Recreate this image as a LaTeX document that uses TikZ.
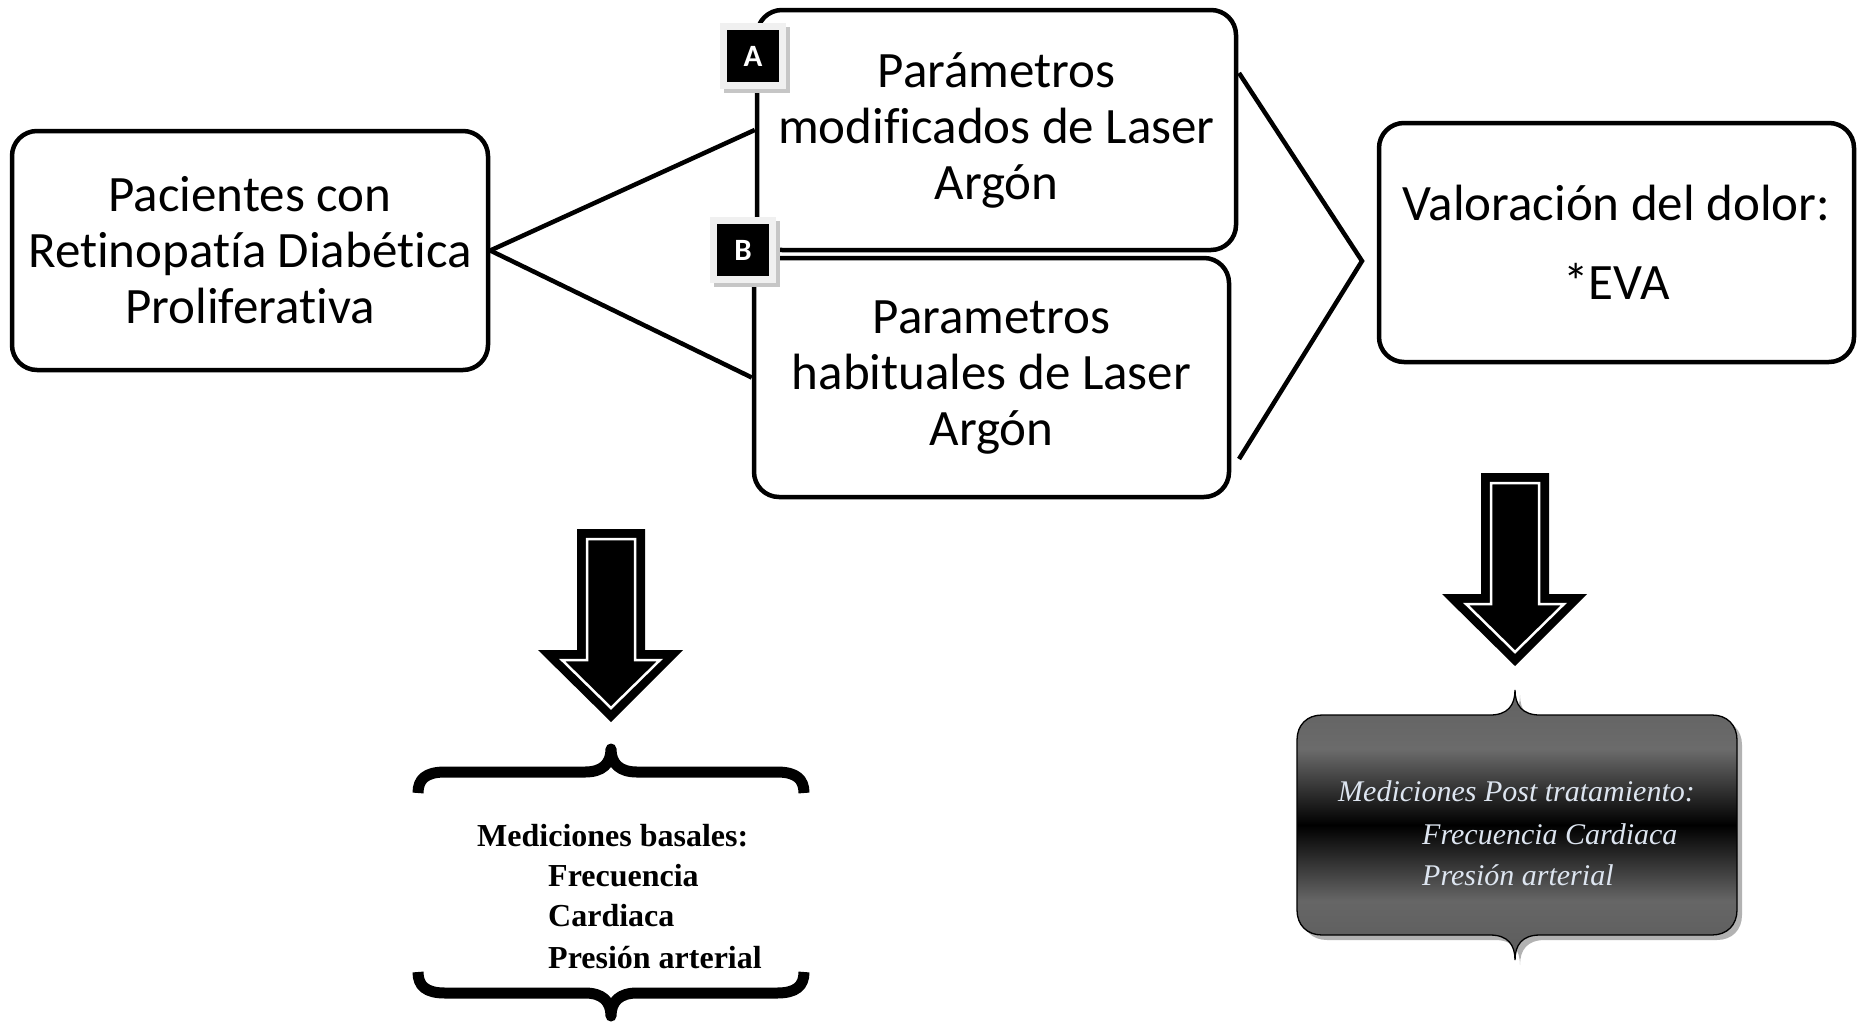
\documentclass[tikz,border=0pt]{standalone}
\usepackage{fontspec}
\setmainfont{Carlito}[Ligatures={NoCommon,NoContextual},Contextuals=NoAlternate]
\newfontfamily\camb{Liberation Serif}
\usetikzlibrary{calc}
\definecolor{posttxt}{RGB}{221,229,240}
\pgfdeclareverticalshading{postshade}{100bp}{color(0bp)=(black!64); color(25bp)=(black!64); color(36bp)=(black!60); color(50bp)=(black); color(64bp)=(black!58); color(75bp)=(black!62); color(100bp)=(black!62)}
\tikzset{
  bigarrow/.pic={
    \fill[black] (-34,0) -- (34,0) -- (34,121) -- (72,121) -- (0,193) -- (-73,121) -- (-34,121) -- cycle;
    \draw[white, line width=2.5pt, line join=miter] (-24,10) -- (24,10) -- (24,131) -- (49,131) -- (0,179) -- (-49,131) -- (-24,131) -- cycle;
  }
}
\begin{document}
\begin{tikzpicture}[x=1pt,y=-1pt,
  box/.style={draw=black, line width=4.5pt, rounded corners=25pt, fill=white, align=center, inner sep=0pt,
    font=\fontsize{51}{56}\selectfont},
  conn/.style={line width=4.5pt},
  lab/.style={fill=black, draw=gray!12, line width=7pt, minimum size=59pt, inner sep=0pt, text=white,
    font=\bfseries\fontsize{31}{31}\selectfont},
  labsh/.style={fill=gray!45, minimum size=66pt, inner sep=0pt},
  brace/.style={line width=11pt, line join=round},
  basal/.style={anchor=base west, inner sep=0pt, font=\camb\bfseries\fontsize{32}{36}\selectfont},
  post/.style={anchor=base west, inner sep=0pt, text=posttxt, font=\camb\itshape\fontsize{30}{34}\selectfont}
]
\useasboundingbox (0,0) rectangle (1857,1023);

% main boxes
\node[box, minimum width=476pt, minimum height=239pt] (pac) at (250,250.5) {Pacientes con\\Ret\kern0pt inopatía Diabét\kern0pt ica\\Proliferat\kern0pt iva};

\coordinate (rtop) at (1239,73);
\coordinate (apex) at (1362,261);
\coordinate (rbot) at (1239,459);

\node[box, minimum width=479pt, minimum height=240pt] (boxA) at (996.5,130) {Parámetros\\modif\kern0pt icados de Laser\\Argón};
\node[box, minimum width=475pt, minimum height=239pt] (boxB) at (991.5,377.5) {Parametros\\habituales de Laser\\Argón};
\node[box, minimum width=475pt, minimum height=239pt] (eva) at (1616.5,242.5) {Valoración del dolor:\\[23pt]*EVA};

\draw[conn] (pac.east) -- (boxA.west);
\draw[conn] (pac.east) -- (boxB.west);
\draw[conn] (rtop) -- (apex) -- (rbot);

% labels
\node[labsh] (labAsh) at (757,60) {};
\node[lab] (labA) at (753,56) {A};
\node[labsh] (labBsh) at (747,254) {};
\node[lab] (labB) at (743,250) {B};

% arrows
\pic (arrL) at (611,529) {bigarrow};
\pic (arrR) at (1515,473) {bigarrow};

% left braces
\draw[brace] (418,793) .. controls (418,779) and (426,772) .. (445,772) -- (585,772)
  .. controls (602,772) and (611,764) .. (611,749) .. controls (611,764) and (620,772) .. (637,772)
  -- (777,772) .. controls (796,772) and (804,779) .. (804,793);
\draw[brace] (418,972) .. controls (418,986) and (426,993) .. (445,993) -- (585,993)
  .. controls (602,993) and (611,1001) .. (611,1016) .. controls (611,1001) and (620,993) .. (637,993)
  -- (777,993) .. controls (796,993) and (804,986) .. (804,972);

\node[basal] (bas1) at (477,846) {Mediciones basales:};
\node[basal] (bas2) at (548,886) {Frecuencia};
\node[basal] (bas3) at (548,926) {Cardiaca};
\node[basal] (bas4) at (548,968) {Presión arterial};

% right brace box
\fill[gray!60, shift={(5,5)}] (1297,740) .. controls (1297,725) and (1307,715) .. (1322,715) -- (1490,715)
  .. controls (1508,715) and (1515,705) .. (1515,690) .. controls (1515,705) and (1522,715) .. (1540,715)
  -- (1712,715) .. controls (1727,715) and (1737,725) .. (1737,740) -- (1737,910)
  .. controls (1737,925) and (1727,935) .. (1712,935) -- (1540,935)
  .. controls (1522,935) and (1515,945) .. (1515,960) .. controls (1515,945) and (1508,935) .. (1490,935)
  -- (1322,935) .. controls (1307,935) and (1297,925) .. (1297,910) -- cycle;
\shade[shading=postshade, draw=black, line width=1.3pt] (1297,740) .. controls (1297,725) and (1307,715) .. (1322,715) -- (1490,715)
  .. controls (1508,715) and (1515,705) .. (1515,690) .. controls (1515,705) and (1522,715) .. (1540,715)
  -- (1712,715) .. controls (1727,715) and (1737,725) .. (1737,740) -- (1737,910)
  .. controls (1737,925) and (1727,935) .. (1712,935) -- (1540,935)
  .. controls (1522,935) and (1515,945) .. (1515,960) .. controls (1515,945) and (1508,935) .. (1490,935)
  -- (1322,935) .. controls (1307,935) and (1297,925) .. (1297,910) -- cycle;

\node[post] (post1) at (1338,801) {Mediciones Post tratamiento:};
\node[post] (post2) at (1422,844) {Frecuencia Cardiaca};
\node[post] (post3) at (1422,885) {Presión arterial};
\end{tikzpicture}
\end{document}
